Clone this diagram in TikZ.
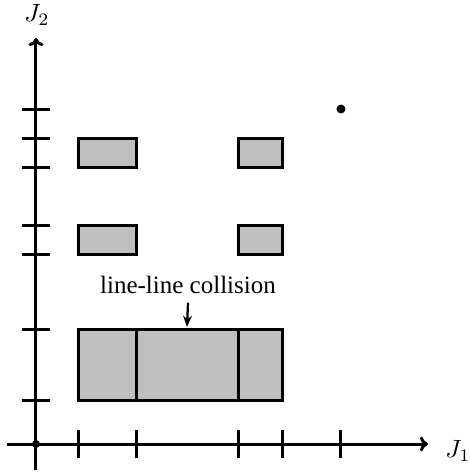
\documentclass[tikz,border=0pt]{standalone}
\usepackage{fontspec}
\setmainfont{Liberation Serif}
\usetikzlibrary{arrows.meta,positioning}

\begin{document}
\begin{tikzpicture}[
  x=0.4pt, y=0.4pt,
  font=\normalsize,
  axis/.style={line width=1.2pt, -{To[length=3.2pt,width=6pt]}},
  tick/.style={line width=1.2pt},
  cell/.style={draw, line width=1.2pt, fill=black!25},
  arrow/.style={-{Stealth[length=4.5pt,width=3.5pt]}, line width=0.9pt}
]
\useasboundingbox (-36,-31) rectangle (434,444);

% axes
\coordinate (o) at (0,0);
\coordinate (xs) at (-29,0);
\coordinate (xe) at (392,0);
\coordinate (ys) at (0,-26);
\coordinate (ye) at (0,406);
\draw[axis] (xs) -- (xe);
\draw[axis] (ys) -- (ye);
\node (j1) at (422,-7) {$J_1$};
\node (j2) at (1,429) {$J_2$};

\foreach \x in {43,101,203,247,305}
  \draw[tick] (\x,-14) -- (\x,14);
\foreach \y in {44,115,190,219,277,306,335}
  \draw[tick] (-14,\y) -- (14,\y);

% obstacle regions
\draw[cell] (43,277) rectangle (101,306);
\draw[cell] (203,277) rectangle (247,306);
\draw[cell] (43,190) rectangle (101,219);
\draw[cell] (203,190) rectangle (247,219);
\draw[cell] (43,44) rectangle (247,115);
\draw[tick] (101,44) -- (101,115);
\draw[tick] (203,44) -- (203,115);

\fill (o) circle (4);
\fill (305,335) circle (4.5);

\node (coll) at (152,159) {line-line collision};
\coordinate (hit) at (151,117);
\draw[arrow] (coll.south) -- (hit);
\end{tikzpicture}
\end{document}
